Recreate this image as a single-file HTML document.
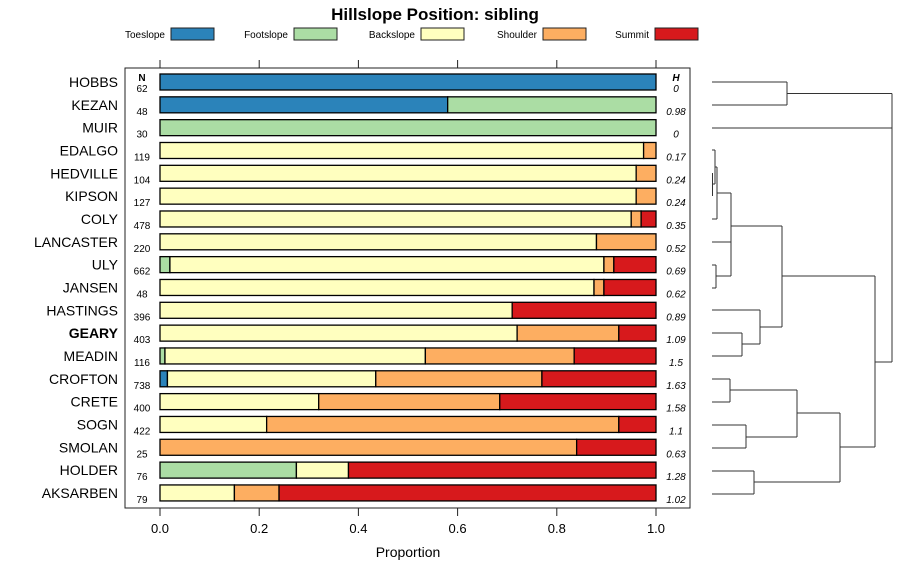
<!DOCTYPE html>
<html><head><meta charset="utf-8"><style>
body{margin:0;background:#fff;font-family:"Liberation Sans",sans-serif}
svg text{font-family:"Liberation Sans",sans-serif}
</style></head><body>
<svg id="c" width="900" height="580" xmlns="http://www.w3.org/2000/svg"></svg>
<script>
const names=["HOBBS","KEZAN","MUIR","EDALGO","HEDVILLE","KIPSON","COLY","LANCASTER","ULY","JANSEN","HASTINGS","GEARY","MEADIN","CROFTON","CRETE","SOGN","SMOLAN","HOLDER","AKSARBEN"];
const nVals=[62,48,30,119,104,127,478,220,662,48,396,403,116,738,400,422,25,76,79];
const hVals=["0","0.98","0","0.17","0.24","0.24","0.35","0.52","0.69","0.62","0.89","1.09","1.5","1.63","1.58","1.1","0.63","1.28","1.02"];
const toeslope=[1,.58,0,0,0,0,0,0,0,0,0,0,0,.015,0,0,0,0,0];
const footslope=[0,.42,1,0,0,0,0,0,.02,0,0,0,.01,0,0,0,0,.275,0];
const backslope=[0,0,0,.975,.96,.96,.95,.88,.875,.875,.71,.72,.525,.42,.32,.215,0,.105,.15];
const shoulder=[0,0,0,.025,.04,.04,.02,.12,.02,.02,0,.205,.30,.335,.365,.71,.84,0,.09];
const summit=[0,0,0,0,0,0,.03,0,.085,.105,.29,.075,.165,.23,.315,.075,.16,.62,.76];
const classes=["Toeslope","Footslope","Backslope","Shoulder","Summit"];
const colors=["#2B83BA","#ABDDA4","#FFFFBF","#FDAE61","#D7191C"];
const ticks=[0,0.2,0.4,0.6,0.8,1.0];
const series=[toeslope,footslope,backslope,shoulder,summit];
const svg=document.getElementById('c');const NS="http://www.w3.org/2000/svg";
function el(t,a,txt){const e=document.createElementNS(NS,t);for(const k in a)e.setAttribute(k,a[k]);if(txt!==undefined)e.textContent=txt;svg.appendChild(e);return e;}
const x=v=>160+v*496;const y=i=>82+i*22.83;
let t=el('text',{x:435,y:20,'text-anchor':'middle','font-size':17,'font-weight':'bold'},'Hillslope Position: sibling');


const lx=[165,288,415,537,649];
classes.forEach((c,i)=>{
 let a=el('text',{x:lx[i],y:38,'text-anchor':'end','font-size':10},c);
 
 
 let b=el('rect',{x:lx[i]+6,y:28,width:43,height:12,fill:colors[i],stroke:'#222','stroke-width':1});
 
 
});
let f=el('rect',{x:125,y:68,width:565,height:440,fill:'none',stroke:'#222','stroke-width':1});


ticks.forEach(v=>{
 el('line',{x1:x(v),x2:x(v),y1:60,y2:68,stroke:'#222'});
 el('line',{x1:x(v),x2:x(v),y1:508,y2:516,stroke:'#222'});
 let l=el('text',{x:x(v),y:533,'text-anchor':'middle','font-size':13},v.toFixed(1));
 
 
});
let xt=el('text',{x:408,y:557,'text-anchor':'middle','font-size':14},'Proportion');


el('text',{x:142,y:81,'text-anchor':'middle','font-size':10,'font-weight':'bold'},'N');
el('text',{x:676,y:81,'text-anchor':'middle','font-size':10,'font-weight':'bold','font-style':'italic'},'H');
names.forEach((n,i)=>{
 const yc=y(i);
 let nm=el('text',{x:118,y:yc+5,'text-anchor':'end','font-size':14,'font-weight':n==='GEARY'?'bold':'normal'},n);
 
 
 el('text',{x:142,y:yc+10,'text-anchor':'middle','font-size':10},String(nVals[i]));
 el('text',{x:676,y:yc+10,'text-anchor':'middle','font-size':10,'font-style':'italic'},hVals[i]);
 let cum=0;
 series.forEach((s,k)=>{
  const v=s[i];if(v<=0)return;
  let r=el('rect',{x:x(cum),y:yc-8,width:x(cum+v)-x(cum),height:16,fill:colors[k],stroke:'#000','stroke-width':1.3});
  
  
  cum+=v;
 });
});
// dendrogram
const segs=[
[712,82,787,82],[712,105,787,105],[787,82,787,105],[787,93.5,892,93.5],[712,128,892,128],[892,93.5,892,362],
[875,362,892,362],[875,276,875,447],
[782,276,875,276],[782,226,782,327],
[731,226,782,226],[731,193,731,276],
[712.5,173,712.5,196],[712,184,715,184],[712,150,715,150],[715,150,715,184],[715,167,717,167],[712,219,717,219],[717,167,717,219],[717,193,731,193],
[712,242,731,242],[712,265,716,265],[712,288,716,288],[716,265,716,288],[716,276,731,276],
[760,327,782,327],[712,310,760,310],[760,310,760,344],[742,344,760,344],[712,333,742,333],[712,356,742,356],[742,333,742,356],
[840,447,875,447],[840,413,840,482],
[797,413,840,413],[797,390,797,437],[730,390,797,390],[712,379,730,379],[712,402,730,402],[730,379,730,402],
[746,437,797,437],[712,425,746,425],[712,448,746,448],[746,425,746,448],
[754,482,840,482],[712,471,754,471],[712,494,754,494],[754,471,754,494]];
segs.forEach(s=>{let l=el('line',{x1:s[0],y1:s[1],x2:s[2],y2:s[3],stroke:'#333','stroke-width':1});
 
 });
</script>
</body></html>
